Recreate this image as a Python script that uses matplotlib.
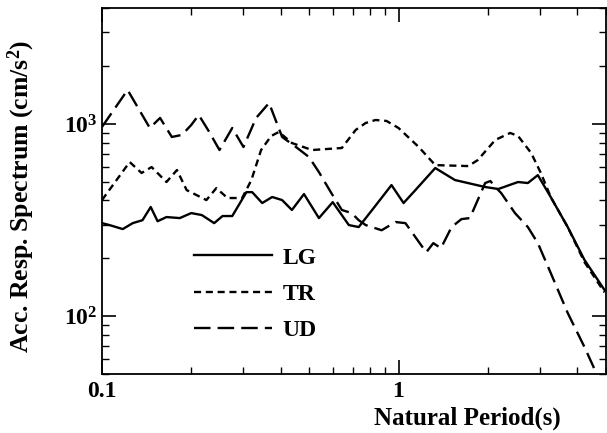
import numpy as np
import matplotlib
matplotlib.use('Agg')
import matplotlib.pyplot as plt
from matplotlib.ticker import FixedLocator, FixedFormatter, LogLocator, NullFormatter

plt.rcParams['font.family'] = 'Liberation Serif'
plt.rcParams['font.weight'] = 'bold'
plt.rcParams['mathtext.fontset'] = 'custom'
plt.rcParams['mathtext.rm'] = 'Liberation Serif:bold'
plt.rcParams['mathtext.bf'] = 'Liberation Serif:bold'
plt.rcParams['mathtext.default'] = 'bf'

# LG component (period s, acc. cm/s2)
lg_t = [0.100, 0.106, 0.1175, 0.127, 0.137, 0.146, 0.154, 0.165, 0.183, 0.200,
        0.217, 0.239, 0.255, 0.275, 0.307, 0.321, 0.347, 0.375, 0.405, 0.437,
        0.480, 0.539, 0.600, 0.680, 0.734, 0.824, 0.947, 1.04, 1.14, 1.33,
        1.55, 1.96, 2.17, 2.53, 2.73, 2.95, 3.26, 3.72, 4.24, 4.95]
lg_a = [305, 298, 284, 305, 316, 370, 312, 328, 324, 344,
        336, 305, 332, 332, 442, 442, 388, 417, 402, 357,
        432, 324, 392, 298, 291, 365, 481, 388, 453, 590,
        511, 470, 459, 499, 493, 542, 417, 291, 196, 137]

# TR component
tr_t = [0.100, 0.124, 0.136, 0.147, 0.165, 0.179, 0.193, 0.225, 0.243, 0.265,
        0.297, 0.319, 0.344, 0.372, 0.395, 0.437, 0.511, 0.644, 0.717, 0.775,
        0.837, 0.911, 1.0, 1.17, 1.33, 1.72, 1.85, 2.12, 2.38, 2.53,
        2.80, 3.02, 3.26, 3.72, 4.24, 4.95]
tr_a = [402, 634, 556, 597, 499, 576, 453, 402, 464, 412,
        412, 511, 732, 866, 909, 796, 732, 750, 931, 1012,
        1049, 1037, 953, 759, 611, 604, 649, 826, 898, 866,
        707, 556, 417, 291, 191, 133]

# UD component
ud_t = [0.100, 0.122, 0.145, 0.157, 0.172, 0.186, 0.200, 0.212, 0.230, 0.249,
        0.275, 0.300, 0.331, 0.366, 0.405, 0.451, 0.499, 0.539, 0.591, 0.644,
        0.695, 0.734, 0.775, 0.877, 0.977, 1.055, 1.14, 1.24, 1.31, 1.39,
        1.51, 1.63, 1.74, 1.85, 1.96, 2.04, 2.12, 2.22, 2.47, 2.73,
        2.95, 3.26, 3.72, 4.24, 4.69]
ud_a = [965, 1503, 953, 1075, 856, 877, 988, 1114, 909, 732,
        953, 759, 1075, 1286, 856, 759, 673, 562, 442, 357,
        344, 316, 298, 280, 309, 305, 258, 215, 240, 226,
        291, 320, 324, 402, 493, 505, 470, 437, 344, 291,
        240, 168, 104, 69, 49]

fig = plt.figure(figsize=(6.07, 4.33), dpi=100)
ax = fig.add_axes([0.168, 0.136, 0.830, 0.845])

lw = 1.7
ax.plot(lg_t, lg_a, color='black', lw=lw, label='LG')
ax.plot(tr_t, tr_a, color='black', lw=lw, dashes=(3, 2), label='TR')
ax.plot(ud_t, ud_a, color='black', lw=lw, dashes=(7, 3), label='UD')

ax.set_xscale('log')
ax.set_yscale('log')
ax.set_xlim(0.1, 5)
ax.set_ylim(50, 4000)

ax.xaxis.set_major_locator(FixedLocator([0.1, 1]))
ax.xaxis.set_major_formatter(FixedFormatter(['0.1', '1']))
ax.xaxis.set_minor_locator(LogLocator(base=10, subs=np.arange(2, 10)))
ax.xaxis.set_minor_formatter(NullFormatter())
ax.yaxis.set_major_locator(FixedLocator([100, 1000]))
ax.yaxis.set_major_formatter(FixedFormatter([r'$10^2$', r'$10^3$']))
ax.yaxis.set_minor_locator(LogLocator(base=10, subs=np.arange(2, 10)))
ax.yaxis.set_minor_formatter(NullFormatter())

ax.tick_params(which='both', direction='in', top=True, right=True, labelsize=17)
ax.tick_params(which='major', length=10, width=1.2)
ax.tick_params(which='minor', length=5, width=1)
ax.tick_params(axis='x', pad=5)
for s in ax.spines.values():
    s.set_linewidth(1.3)

ax.set_xlabel('Natural Period(s)', fontsize=18, fontweight='bold')
ax.xaxis.set_label_coords(0.726, -0.088)
ax.set_ylabel(r'Acc. Resp. Spectrum (cm/s$^2$)', fontsize=18.5, fontweight='bold')
ax.yaxis.set_label_coords(-0.128, 0.485)

leg = ax.legend(loc='upper left', bbox_to_anchor=(0.14, 0.405), frameon=False,
                fontsize=17, handlelength=3.3, handletextpad=0.45, labelspacing=0.62)

fig.savefig('out.png', dpi=100)
